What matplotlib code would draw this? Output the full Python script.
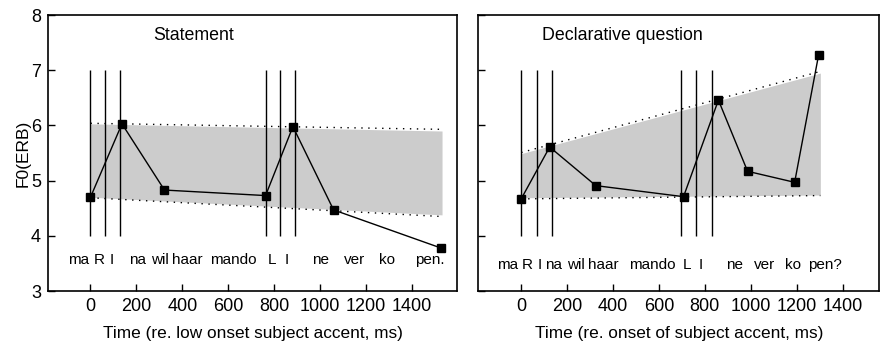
import matplotlib.pyplot as plt

plt.rcParams['font.family'] = ['Liberation Sans', 'DejaVu Sans']

# statement panel
st_t = [0, 137, 322, 762, 881, 1058, 1525]
st_f0 = [4.70, 6.03, 4.83, 4.73, 5.98, 4.47, 3.78]
st_bounds = [0, 63, 129, 763, 826, 892]
st_band_t = [0, 1530]
st_band_hi = [6.03, 5.90]
st_band_lo = [4.70, 4.38]
st_dot_hi = [6.04, 5.93]
st_dot_lo = [4.69, 4.35]
st_words = ['ma', 'R', 'I', 'na', 'wil', 'haar', 'mando', 'L', 'I', 'ne', 'ver', 'ko', 'pen.']
st_word_t = [-53, 38, 93, 204, 303, 420, 622, 789, 855, 1002, 1150, 1290, 1475]

# declarative question panel
q_t = [0, 124, 325, 707, 859, 986, 1191, 1295]
q_f0 = [4.67, 5.61, 4.91, 4.71, 6.46, 5.17, 4.97, 7.27]
q_bounds = [0, 67, 132, 697, 762, 833]
q_band_t = [0, 1303]
q_band_hi = [5.49, 6.95]
q_band_lo = [4.69, 4.74]
q_dot_hi = [5.51, 6.98]
q_dot_lo = [4.67, 4.73]
q_words = ['ma', 'R', 'I', 'na', 'wil', 'haar', 'mando', 'L', 'I', 'ne', 'ver', 'ko', 'pen?']
q_word_t = [-59, 28, 81, 139, 240, 356, 573, 720, 782, 931, 1061, 1184, 1322]

xticks = [0, 200, 400, 600, 800, 1000, 1200, 1400]

fig = plt.figure(figsize=(8.82, 3.44), dpi=100)
ax1 = fig.add_axes([0.0544, 0.154, 0.4637, 0.802])
ax2 = fig.add_axes([0.542, 0.154, 0.455, 0.802])


def panel(ax, t, f0, bounds, bt, hi, lo, dhi, dlo, words, wt, word_y, title, title_t, xlab, xlim):
    ax.fill_between(bt, lo, hi, color='#cccccc', lw=0, zorder=1)
    ax.plot(bt, dhi, color='black', lw=1, ls=(0, (1, 4)), zorder=2)
    ax.plot(bt, dlo, color='black', lw=1, ls=(0, (1, 4)), zorder=2)
    ax.vlines(bounds, 4, 7, color='black', lw=1, zorder=3)
    ax.plot(t, f0, color='black', lw=1, marker='s', ms=5.5, zorder=4)
    for w, x in zip(words, wt):
        ax.text(x, word_y, w, ha='center', va='center', fontsize=11)
    ax.text(title_t, 7.63, title, ha='center', va='center', fontsize=12.8)
    ax.set_xlim(xlim)
    ax.set_ylim(3, 8)
    ax.set_xticks(xticks)
    ax.set_yticks([3, 4, 5, 6, 7, 8])
    ax.tick_params(direction='in', length=5, width=1, labelsize=13, pad=5)
    ax.set_xlabel(xlab, fontsize=12.4, labelpad=8)
    for s in ax.spines.values():
        s.set_linewidth(1.2)


panel(ax1, st_t, st_f0, st_bounds, st_band_t, st_band_hi, st_band_lo, st_dot_hi, st_dot_lo,
      st_words, st_word_t, 3.57, 'Statement', 447, 'Time (re. low onset subject accent, ms)', (-185, 1595))
panel(ax2, q_t, q_f0, q_bounds, q_band_t, q_band_hi, q_band_lo, q_dot_hi, q_dot_lo,
      q_words, q_word_t, 3.48, 'Declarative question', 442, 'Time (re. onset of subject accent, ms)', (-188, 1560))
ax1.set_ylabel('F0(ERB)', fontsize=12.5, labelpad=0)
ax2.set_yticklabels([])

fig.savefig('out.png', dpi=100)
